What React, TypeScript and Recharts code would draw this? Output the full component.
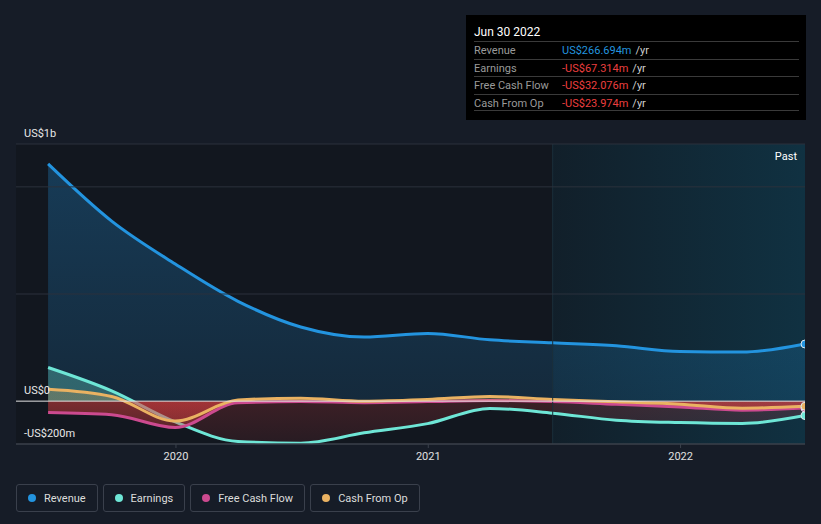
import { Area, ComposedChart, ReferenceArea, ReferenceLine, XAxis, YAxis } from "recharts";

// quarter ends (trailing twelve months), values in US$m
const periods = [
  "2019-06-30", "2019-09-30", "2019-12-31", "2020-03-31", "2020-06-30", "2020-09-30", "2020-12-31",
  "2021-03-31", "2021-06-30", "2021-09-30", "2021-12-31", "2022-03-31", "2022-06-30",
];
const revenue = [1107, 840, 640, 466, 346, 299, 316, 286, 272, 258, 232, 229, 266.694];
const earnings = [157, 48, -97, -188, -196, -148, -105, -34, -56, -89, -100, -104, -67.314];
const freeCashFlow = [-53, -63, -123, -8, -2, -7, -2, 3, -2, -15, -27, -42, -32.076];
const cashFromOp = [56, 22, -93, 5, 14, 0, 8, 22, 8, -3, -14, -33, -23.974];

const yearTicks = [2020, 2021, 2022];
const gridValues = [500, 1000];
const yLabels = [
  { value: 1200, text: "US$1b" },
  { value: 0, text: "US$0" },
  { value: -200, text: "-US$200m" },
];
const pastStart = "2021-06-30";
const tooltipTitle = "Jun 30 2022";

const series = [
  { key: "revenue", name: "Revenue", color: "#2394df", values: revenue },
  { key: "earnings", name: "Earnings", color: "#6ee6d6", values: earnings },
  { key: "fcf", name: "Free Cash Flow", color: "#cc4a8f", values: freeCashFlow },
  { key: "cfo", name: "Cash From Op", color: "#eab262", values: cashFromOp },
];

const toYear = (d: string) => {
  const [y, m, day] = d.split("-").map(Number);
  const start = Date.UTC(y, 0, 1);
  return y + (Date.UTC(y, m - 1, day) - start) / (Date.UTC(y + 1, 0, 1) - start);
};

const data = periods.map((p, i) => ({
  t: toYear(p),
  revenue: revenue[i],
  earnings: earnings[i],
  fcf: freeCashFlow[i],
  cfo: cashFromOp[i],
}));

const xMin = 2019.366;
const xMax = toYear(periods[periods.length - 1]);
const Y_MIN = -200;
const Y_MAX = 1200;
// plot box in svg coords
const TOP = 144;
const BOTTOM = 444;
const zeroOff = (Y_MAX - 0) / (Y_MAX - Y_MIN);

const fmt = (v: number) => (v < 0 ? `-US$${Math.abs(v).toFixed(3)}m` : `US$${v.toFixed(3)}m`);

const endDot = (color: string) => (props: any) => {
  const { cx, cy, index } = props;
  if (index !== periods.length - 1) return <g key={`d${index}`} />;
  return <circle key={`d${index}`} cx={cx} cy={cy} r={4} fill={color} stroke="#dfe8ee" strokeWidth={1} />;
};

function SplitGradient({ id, pos, posOp, negOp }: { id: string; pos: string; posOp: [number, number]; negOp: [number, number] }) {
  return (
    <linearGradient id={id} gradientUnits="userSpaceOnUse" x1={0} y1={TOP} x2={0} y2={BOTTOM}>
      <stop offset={0} stopColor={pos} stopOpacity={posOp[0]} />
      <stop offset={zeroOff} stopColor={pos} stopOpacity={posOp[1]} />
      <stop offset={zeroOff} stopColor="#e64141" stopOpacity={negOp[0]} />
      <stop offset={1} stopColor="#e64141" stopOpacity={negOp[1]} />
    </linearGradient>
  );
}

export default function App() {
  const last = periods.length - 1;
  return (
    <div
      style={{
        position: "fixed",
        left: 0,
        top: 0,
        width: 821,
        height: 524,
        background: "#161c27",
        fontFamily: "Roboto, sans-serif",
        overflow: "hidden",
      }}
    >
      <ComposedChart width={821} height={524} data={data} margin={{ top: TOP, right: 16, bottom: 50, left: 16 }}>
        <defs>
          <SplitGradient id="gRev" pos="#2394df" posOp={[0.3, 0.15]} negOp={[0.2, 0.2]} />
          <SplitGradient id="gEarn" pos="#6ee6d6" posOp={[0.31, 0.31]} negOp={[0.2, 0.1]} />
          <SplitGradient id="gFcf" pos="#cc4a8f" posOp={[0.2, 0.2]} negOp={[0.5, 0.25]} />
          <SplitGradient id="gCfo" pos="#eab262" posOp={[0.25, 0.25]} negOp={[0.2, 0.1]} />
          <linearGradient id="gPast" gradientUnits="userSpaceOnUse" x1={553} y1={0} x2={805} y2={0}>
            <stop offset={0} stopColor="#0d5c7a" stopOpacity={0.12} />
            <stop offset={1} stopColor="#0d5c7a" stopOpacity={0.38} />
          </linearGradient>
        </defs>
        <XAxis
          dataKey="t"
          type="number"
          domain={[xMin, xMax]}
          allowDataOverflow
          ticks={yearTicks}
          tickFormatter={(v) => String(v)}
          height={30}
          tickSize={4}
          tickMargin={4}
          stroke="#3a404b"
          tick={{ fill: "#e0e0e0", fontSize: 11 }}
        />
        <YAxis hide type="number" domain={[Y_MIN, Y_MAX]} allowDataOverflow />
        <ReferenceArea x1={xMin} x2={xMax} y1={Y_MIN} y2={Y_MAX} fill="#12171f" fillOpacity={1} stroke="none" />
        <ReferenceArea
          x1={toYear(pastStart)}
          x2={xMax}
          y1={Y_MIN}
          y2={Y_MAX}
          fill="url(#gPast)"
          fillOpacity={1}
          stroke="none"
          label={(p: any) => (
            <text x={p.viewBox.x + p.viewBox.width - 8} y={p.viewBox.y + 16} textAnchor="end" fill="#ffffff" fontSize={11}>
              Past
            </text>
          )}
        />
        <ReferenceLine x={toYear(pastStart)} stroke="#1a2f3a" strokeWidth={1} />
        {gridValues.map((g) => (
          <ReferenceLine key={g} y={g} stroke="#2b313c" strokeWidth={1} />
        ))}
        {yLabels.map((l) => (
          <ReferenceLine
            key={l.text}
            y={l.value}
            stroke={l.value === 0 ? "#e4e4e4" : l.value === Y_MAX ? "#2b313c" : "#3a404b"}
            strokeWidth={1}
            label={(p: any) => (
              <text x={p.viewBox.x + 8} y={p.viewBox.y - 7} fill="#e8e8e8" fontSize={11}>
                {l.text}
              </text>
            )}
          />
        ))}
        {series.map((s, i) => (
          <Area
            key={s.key}
            dataKey={s.key}
            type="monotone"
            baseValue={0}
            stroke={s.color}
            strokeWidth={3}
            fill={`url(#${["gRev", "gEarn", "gFcf", "gCfo"][i]})`}
            fillOpacity={1}
            dot={endDot(s.color)}
            activeDot={false}
            isAnimationActive={false}
          />
        ))}
      </ComposedChart>

      {/* fixed hover box for the latest period */}
      <div
        style={{
          position: "absolute",
          left: 466,
          top: 15,
          width: 340,
          height: 105,
          background: "#000",
          boxSizing: "border-box",
          padding: "8px 7px 0 8px",
        }}
      >
        <div style={{ height: 18, lineHeight: "18px", fontSize: 12, color: "#fff" }}>{tooltipTitle}</div>
        {series.map((s, i) => {
          const v = s.values[last];
          return (
            <div
              key={s.key}
              style={{
                height: 17.5,
                lineHeight: "17px",
                boxSizing: "border-box",
                borderTop: "1px solid #3a3a3a",
                borderBottom: i === series.length - 1 ? "1px solid #3a3a3a" : undefined,
                fontSize: 11,
                display: "flex",
              }}
            >
              <span style={{ width: 88, color: "#9a9a9a" }}>{s.name}</span>
              <span style={{ color: v < 0 ? "#ec3f3f" : "#2394df" }}>{fmt(v)}</span>
              <span style={{ color: "#cfcfcf", marginLeft: 4 }}>/yr</span>
            </div>
          );
        })}
      </div>

      <div style={{ position: "absolute", left: 16, top: 484, display: "flex", gap: 5 }}>
        {series.map((s) => (
          <div
            key={s.key}
            style={{
              height: 28,
              boxSizing: "border-box",
              border: "1px solid #3a404c",
              borderRadius: 3,
              padding: "0 11px 0 11px",
              display: "flex",
              alignItems: "center",
              gap: 8,
              fontSize: 11,
              color: "#dcdcdc",
            }}
          >
            <span style={{ width: 8, height: 8, borderRadius: 4, background: s.color, display: "inline-block" }} />
            {s.name}
          </div>
        ))}
      </div>
    </div>
  );
}
